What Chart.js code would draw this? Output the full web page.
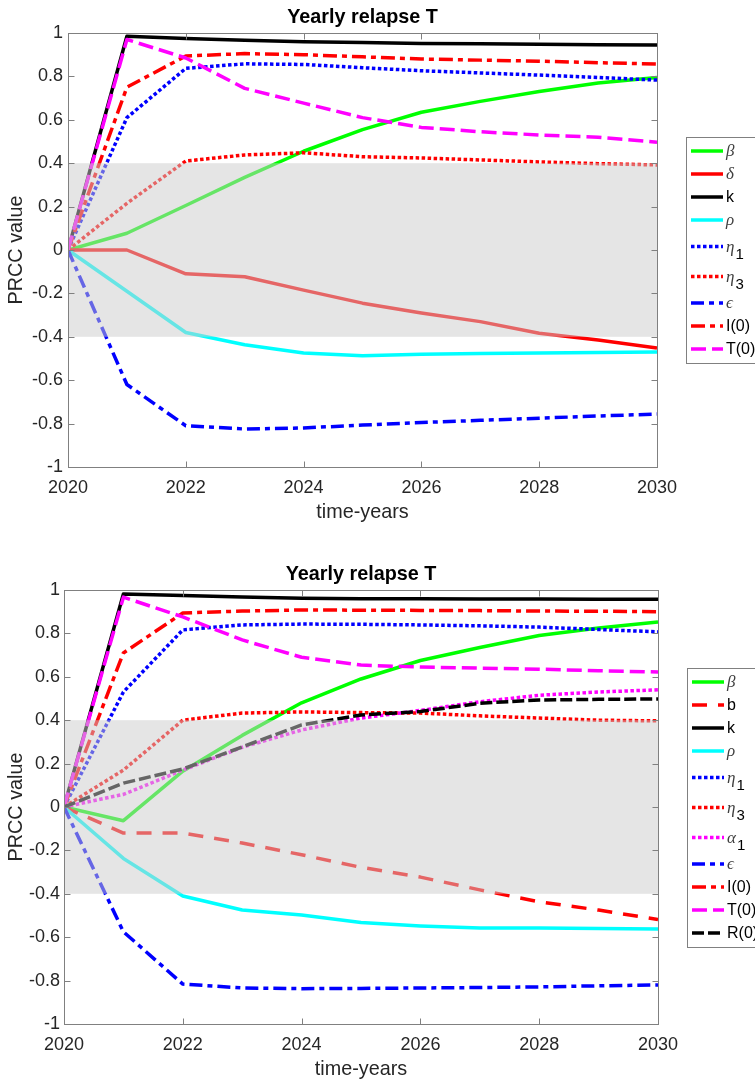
<!DOCTYPE html>
<html>
<head>
<meta charset="utf-8">
<script src="https://cdn.jsdelivr.net/npm/chart.js@4.4.1/dist/chart.umd.min.js"></script>
<style>
  html, body { margin: 0; padding: 0; background: #fff; overflow: hidden; }
  #wrap { position: relative; width: 755px; height: 1083px; }
  canvas { position: absolute; left: 0; }
</style>
</head>
<body>
<div id="wrap">
  <canvas id="topChart" width="755" height="540" style="top:0px"></canvas>
  <canvas id="bottomChart" width="755" height="543" style="top:540px"></canvas>
</div>
<script>
// ---- data ----
const years = [2020, 2021, 2022, 2023, 2024, 2025, 2026, 2027, 2028, 2029, 2030];
const xTicks = [2020, 2022, 2024, 2026, 2028, 2030];
const xTickLabels = ['2020', '2022', '2024', '2026', '2028', '2030'];
const yTicks = [-1, -0.8, -0.6, -0.4, -0.2, 0, 0.2, 0.4, 0.6, 0.8, 1];
const yTickLabels = ['-1', '-0.8', '-0.6', '-0.4', '-0.2', '0', '0.2', '0.4', '0.6', '0.8', '1'];
const bandRange = [-0.4, 0.4];

const titleText = 'Yearly relapse T';
const xTitle = 'time-years';
const yTitle = 'PRCC value';

// top panel
const topBeta  = [0, 0.077, 0.205, 0.335, 0.455, 0.555, 0.635, 0.685, 0.73, 0.77, 0.795];
const topDelta = [0, 0, -0.11, -0.123, -0.185, -0.245, -0.29, -0.33, -0.384, -0.415, -0.452];
const topK     = [0, 0.985, 0.975, 0.967, 0.96, 0.956, 0.952, 0.95, 0.948, 0.946, 0.945];
const topRho   = [0, -0.19, -0.38, -0.437, -0.475, -0.487, -0.48, -0.477, -0.475, -0.472, -0.47];
const topEta1  = [0, 0.61, 0.837, 0.858, 0.855, 0.84, 0.826, 0.816, 0.806, 0.795, 0.783];
const topEta3  = [0, 0.215, 0.41, 0.438, 0.448, 0.43, 0.424, 0.415, 0.406, 0.398, 0.392];
const topEps   = [0, -0.62, -0.81, -0.825, -0.82, -0.807, -0.795, -0.785, -0.775, -0.765, -0.756];
const topI0    = [0, 0.75, 0.894, 0.905, 0.9, 0.89, 0.88, 0.875, 0.87, 0.863, 0.857];
const topT0    = [0, 0.97, 0.885, 0.745, 0.677, 0.61, 0.565, 0.545, 0.53, 0.52, 0.497];

// bottom panel
const botBeta   = [0, -0.063, 0.165, 0.33, 0.48, 0.59, 0.675, 0.735, 0.79, 0.825, 0.853];
const botB      = [0, -0.12, -0.12, -0.166, -0.22, -0.278, -0.323, -0.382, -0.437, -0.475, -0.518];
const botK      = [0, 0.982, 0.975, 0.968, 0.962, 0.96, 0.96, 0.958, 0.958, 0.957, 0.957];
const botRho    = [0, -0.237, -0.41, -0.475, -0.498, -0.532, -0.548, -0.558, -0.558, -0.56, -0.562];
const botEta1   = [0, 0.53, 0.816, 0.839, 0.843, 0.842, 0.839, 0.835, 0.829, 0.818, 0.807];
const botEta3   = [0, 0.17, 0.4, 0.433, 0.438, 0.435, 0.433, 0.42, 0.41, 0.4, 0.397];
const botAlpha1 = [0, 0.058, 0.17, 0.275, 0.355, 0.41, 0.445, 0.485, 0.515, 0.53, 0.54];
const botEps    = [0, -0.575, -0.816, -0.834, -0.837, -0.836, -0.834, -0.832, -0.829, -0.824, -0.82];
const botI0     = [0, 0.71, 0.894, 0.903, 0.908, 0.907, 0.906, 0.905, 0.903, 0.902, 0.9];
const botT0     = [0, 0.967, 0.876, 0.77, 0.69, 0.654, 0.645, 0.64, 0.635, 0.628, 0.622];
const botR0     = [0, 0.11, 0.175, 0.277, 0.378, 0.424, 0.44, 0.478, 0.493, 0.496, 0.498];

// ---- styles ----
const lineStyles = {
  greenSolid:   { color: '#00ff00', dash: [] },
  redSolid:     { color: '#ff0000', dash: [] },
  blackSolid:   { color: '#000000', dash: [] },
  cyanSolid:    { color: '#00ffff', dash: [] },
  blueDot:      { color: '#0000ff', dash: [3.5, 2.5] },
  redDot:       { color: '#ff0000', dash: [3.5, 2.5] },
  magentaDot:   { color: '#ff00ff', dash: [3.5, 2.5] },
  blueDashDot:  { color: '#0000ff', dash: [13, 5, 5, 5] },
  redDashDot:   { color: '#ff0000', dash: [14, 5, 5, 5] },
  magentaDash:  { color: '#ff00ff', dash: [15, 6] },
  blackDash:    { color: '#000000', dash: [12, 4] },
  redWideDash:  { color: '#ff0000', dash: [15, 11] }
};

const topSeries = [
  { label: 'β',    values: topBeta,  style: 'greenSolid' },
  { label: 'δ',    values: topDelta, style: 'redSolid' },
  { label: 'k',    values: topK,     style: 'blackSolid' },
  { label: 'ρ',    values: topRho,   style: 'cyanSolid' },
  { label: 'η_1',  values: topEta1,  style: 'blueDot' },
  { label: 'η_3',  values: topEta3,  style: 'redDot' },
  { label: 'ϵ',    values: topEps,   style: 'blueDashDot' },
  { label: 'I(0)', values: topI0,    style: 'redDashDot' },
  { label: 'T(0)', values: topT0,    style: 'magentaDash' }
];

const bottomSeries = [
  { label: 'β',    values: botBeta,   style: 'greenSolid' },
  { label: 'b',    values: botB,      style: 'redWideDash' },
  { label: 'k',    values: botK,      style: 'blackSolid' },
  { label: 'ρ',    values: botRho,    style: 'cyanSolid' },
  { label: 'η_1',  values: botEta1,   style: 'blueDot' },
  { label: 'η_3',  values: botEta3,   style: 'redDot' },
  { label: 'α_1',  values: botAlpha1, style: 'magentaDot' },
  { label: 'ϵ',    values: botEps,    style: 'blueDashDot' },
  { label: 'I(0)', values: botI0,     style: 'redDashDot' },
  { label: 'T(0)', values: botT0,     style: 'magentaDash' },
  { label: 'R(0)', values: botR0,     style: 'blackDash' }
];

Chart.defaults.font.family = '"Liberation Sans", Arial, sans-serif';

function drawLabel(ctx, label, x, y) {
  const [main, sub] = label.split('_');
  const greek = /[\u0370-\u03ff]/.test(main);
  ctx.setLineDash([]);
  ctx.textBaseline = 'middle';
  ctx.textAlign = 'left';
  ctx.font = greek ? 'italic 17px "Liberation Serif", "DejaVu Serif", serif' : '16px "Liberation Sans", Arial, sans-serif';
  ctx.fillStyle = greek ? '#404040' : '#000';
  ctx.fillText(main, x, y + 1);
  if (sub) {
    const w = ctx.measureText(main).width;
    ctx.font = '15px "Liberation Sans", Arial, sans-serif';
    ctx.fillStyle = '#000';
    ctx.fillText(sub, x + w + 1, y + 8);
  }
}

// gray band over the lines, box with inward ticks, legend at the right
const panelPlugin = {
  id: 'panel',
  afterDatasetsDraw(chart) {
    const { ctx, chartArea: a, scales: { y } } = chart;
    const yTop = y.getPixelForValue(bandRange[1]);
    const yBot = y.getPixelForValue(bandRange[0]);
    ctx.save();
    ctx.fillStyle = 'rgba(204,204,204,0.5)';
    ctx.fillRect(a.left, yTop, a.right - a.left, yBot - yTop);
    ctx.restore();
  },
  afterDraw(chart) {
    const { ctx, chartArea: a, scales: { x, y } } = chart;
    ctx.save();
    ctx.strokeStyle = '#808080';
    ctx.lineWidth = 1;
    ctx.setLineDash([]);
    const L = Math.round(a.left) + 0.5, R = Math.round(a.right) + 0.5;
    const T = Math.round(a.top) + 0.5, B = Math.round(a.bottom) + 0.5;
    ctx.strokeRect(L, T, R - L, B - T);
    ctx.beginPath();
    xTicks.slice(1, -1).forEach(v => {
      const px = Math.round(x.getPixelForValue(v)) + 0.5;
      ctx.moveTo(px, B); ctx.lineTo(px, B - 6);
      ctx.moveTo(px, T); ctx.lineTo(px, T + 6);
    });
    yTicks.slice(1, -1).forEach(v => {
      const py = Math.round(y.getPixelForValue(v)) + 0.5;
      ctx.moveTo(L, py); ctx.lineTo(L + 6, py);
      ctx.moveTo(R, py); ctx.lineTo(R - 6, py);
    });
    ctx.stroke();

    // legend
    const items = chart.data.datasets.map(ds => ({ label: ds.label, color: ds.borderColor, dash: ds.borderDash }));
    const rowH = it => it.label.includes('_') ? 30 : 23;
    const total = items.reduce((s, it) => s + rowH(it), 0) + 5;
    const left = Math.round(a.right) + 29;
    const top = Math.round((a.top + a.bottom) / 2 - total / 2);
    ctx.fillStyle = '#fff';
    ctx.fillRect(left, top, 120, total);
    ctx.strokeStyle = '#808080';
    ctx.strokeRect(left + 0.5, top + 0.5, 120, total);
    let yy = top + 2.5;
    items.forEach(it => {
      const cy = yy + rowH(it) / 2;
      ctx.beginPath();
      ctx.setLineDash(it.dash || []);
      ctx.lineWidth = 3.5;
      ctx.strokeStyle = it.color;
      ctx.moveTo(left + 5, cy);
      ctx.lineTo(left + 37, cy);
      ctx.stroke();
      drawLabel(ctx, it.label, left + 40, cy);
      yy += rowH(it);
    });
    ctx.restore();
  }
};

function buildChart(id, series, opt) {
  const n = series.length;
  return new Chart(document.getElementById(id), {
    type: 'line',
    data: {
      datasets: series.map((s, i) => ({
        label: s.label,
        data: years.map((yr, j) => ({ x: yr, y: s.values[j] })),
        borderColor: lineStyles[s.style].color,
        borderDash: lineStyles[s.style].dash,
        borderWidth: 3.5,
        borderJoinStyle: 'round',
        pointRadius: 0,
        tension: 0,
        fill: false,
        order: n - i
      }))
    },
    options: {
      responsive: false,
      animation: false,
      devicePixelRatio: 1,
      layout: { padding: { top: 0, right: opt.right, bottom: opt.bottom, left: 0 } },
      plugins: {
        legend: { display: false },
        tooltip: { enabled: false },
        title: {
          display: true,
          fullSize: false,
          text: titleText,
          color: '#000',
          font: { size: 19.8, weight: 'bold' },
          padding: { top: opt.titleTop, bottom: 3.74 }
        }
      },
      scales: {
        x: {
          type: 'linear',
          min: 2020,
          max: 2030,
          afterBuildTicks: s => { s.ticks = xTicks.map(v => ({ value: v })); },
          afterFit: s => { s.height = 57; },
          grid: { display: false, drawTicks: false },
          border: { display: false },
          ticks: {
            color: '#262626',
            font: { size: 18 },
            padding: 10,
            maxRotation: 0,
            autoSkip: false,
            callback: (v, i) => xTickLabels[i]
          },
          title: { display: true, text: xTitle, color: '#262626', font: { size: 19.8 }, padding: { top: 0, bottom: 0 } }
        },
        y: {
          min: -1,
          max: 1,
          afterBuildTicks: s => { s.ticks = yTicks.map(v => ({ value: v })); },
          afterFit: s => { s.width = opt.left; },
          grid: { display: false, drawTicks: false },
          border: { display: false },
          ticks: {
            color: '#262626',
            font: { size: 18 },
            padding: opt.yPad,
            autoSkip: false,
            callback: (v, i) => yTickLabels[i]
          },
          title: { display: true, text: yTitle, color: '#262626', font: { size: 19.8 }, padding: { top: 5, bottom: 0 } }
        }
      }
    },
    plugins: [panelPlugin]
  });
}

buildChart('topChart', topSeries, { left: 68, right: 98, bottom: 16, titleTop: 5.5, yPad: 5 });
buildChart('bottomChart', bottomSeries, { left: 64, right: 97, bottom: 2, titleTop: 22.5, yPad: 4 });
</script>
</body>
</html>
